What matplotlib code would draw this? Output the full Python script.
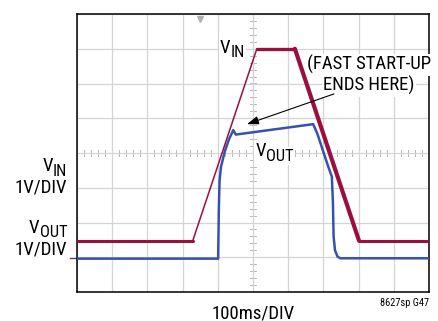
import numpy as np
import matplotlib
matplotlib.use("Agg")
import matplotlib.pyplot as plt
from matplotlib import font_manager

# trace data, in scope divisions (x: 100ms/div, y: 1V/div)
vin_t = [0.0, 3.29, 5.11, 6.19, 8.01, 10.0]
vin_v = [1.48, 1.48, 7.0, 7.0, 1.48, 1.48]
vin_lw = [2.2, 1.1, 2.4, 3.0, 2.2]   # per segment

vout_t = [0.0, 4.01, 4.03, 4.05, 4.09, 4.2, 4.32, 4.44, 4.51, 6.71,
          6.83, 6.95, 7.14, 7.24, 7.27, 7.29, 7.33, 7.4, 7.48, 10.0]
vout_v = [0.96, 0.96, 2.4, 3.2, 3.6, 4.05, 4.4, 4.66, 4.53, 4.83,
          4.55, 4.18, 3.6, 3.32, 2.6, 1.6, 1.2, 1.02, 0.97, 0.97]

RED = "#9b0f3f"
BLUE = "#3553ac"
GRID = "#d4d4d4"

# pick a condensed face if one is around
have = {f.name for f in font_manager.fontManager.ttflist}
cands = ["Liberation Sans Narrow", "DejaVu Sans Condensed", "Roboto Condensed",
         "Open Sans Condensed", "Liberation Sans"]
FONT = [c for c in cands if c in have] + ["DejaVu Sans"]
plt.rcParams["font.family"] = FONT
narrow = FONT[0] in ("Liberation Sans Narrow", "DejaVu Sans Condensed", "Roboto Condensed", "Open Sans Condensed")
FS = 13.5 if narrow else 12

fig = plt.figure(figsize=(4.38, 3.21), dpi=100)
ax = fig.add_axes([77 / 438, 29 / 321, 352 / 438, 278 / 321])
ax.set_xlim(0, 10)
ax.set_ylim(0, 8)
ax.set_xticks(np.arange(0, 11))
ax.set_yticks(np.arange(0, 9))
ax.tick_params(length=0, labelbottom=False, labelleft=False)
ax.grid(True, color=GRID, lw=0.9)
for s in ax.spines.values():
    s.set_linewidth(1.1)
    s.set_color("black")

# center graticule minor ticks
for t in np.arange(0.2, 10, 0.2):
    ax.plot([t, t], [3.91, 4.09], color="#b8b8b8", lw=0.7, zorder=1)
for t in np.arange(0.2, 8, 0.2):
    ax.plot([4.915, 5.085], [t, t], color="#b8b8b8", lw=0.7, zorder=1)

# traces
for i in range(len(vin_t) - 1):
    ax.plot(vin_t[i:i + 2], vin_v[i:i + 2], color=RED, lw=vin_lw[i],
            solid_capstyle="round", zorder=4)
ax.plot(vout_t, vout_v, color=BLUE, lw=1.8, zorder=3)

# trigger / ground markers
ax.plot([3.49], [7.87], marker="v", ms=5, color="#b0b0b0", clip_on=False, zorder=5)
ax.plot([-0.2, 0.0], [0.97, 0.97], color="#7a2a60", lw=1.0, clip_on=False)

labels = []


def vlabel(x, y, sub, bg=False, right=False):
    kw = dict(fontsize=FS, va="baseline", zorder=6, clip_on=False)
    if bg:
        kw["bbox"] = dict(fc="white", ec="none", pad=1)
    v = ax.text(x, y, "V", ha="left", **kw)
    s = ax.annotate(sub, xy=(1, 0), xycoords=v, xytext=(0.2, -2.5),
                    textcoords="offset points", ha="left", va="bottom",
                    fontsize=FS * 0.88, zorder=6, bbox=kw.get("bbox"))
    if right:
        labels.append((v, s, x))


vlabel(4.06, 6.88, "IN", bg=True)
vlabel(5.06, 3.91, "OUT", bg=True)

note = dict(ha="center", va="baseline", fontsize=FS, zorder=6,
            bbox=dict(fc="white", ec="none", pad=1))
ax.text(8.3, 6.39, "(FAST START-UP", **note)
ax.text(8.3, 5.78, "ENDS HERE)", **note)
ax.annotate("", xy=(4.83, 4.83), xytext=(7.3, 5.7),
            arrowprops=dict(arrowstyle="-|>,head_length=0.7,head_width=0.25",
                            color="black", lw=0.8, shrinkA=0, shrinkB=0),
            zorder=7)

# left axis labels (right aligned at x = -0.28 div)
vlabel(-0.28, 3.48, "IN", right=True)
ax.text(-0.28, 2.85, "1V/DIV", ha="right", va="baseline", fontsize=FS)
vlabel(-0.28, 1.70, "OUT", right=True)
ax.text(-0.28, 1.09, "1V/DIV", ha="right", va="baseline", fontsize=FS)

fig.text(253 / 438, 1 - 313 / 321, "100ms/DIV", ha="center", va="center",
         fontsize=FS)
fig.text(429 / 438, 1 - 303 / 321, "8627sp G47", ha="right", va="center",
         fontsize=7.5)

# shift the left V labels so their right edge lines up
fig.canvas.draw()
r = fig.canvas.get_renderer()
px_per_div = ax.get_window_extent(r).width / 10
for v, s, x in labels:
    x0 = v.get_window_extent(r).x0
    x1 = s.get_window_extent(r).x1
    v.set_x(x - (x1 - x0) / px_per_div)

fig.savefig("out.png", dpi=100)
